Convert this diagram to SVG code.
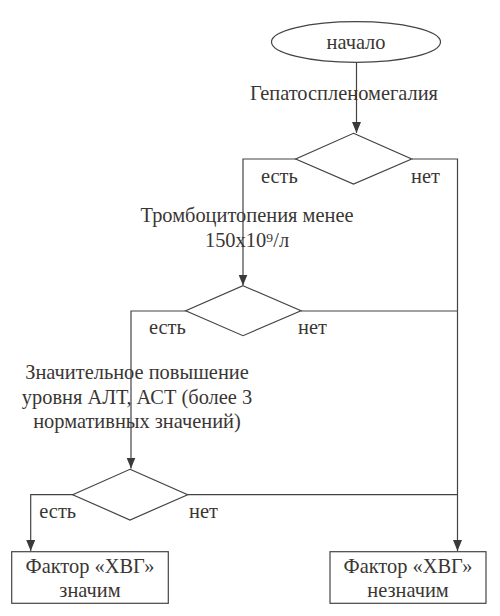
<svg xmlns="http://www.w3.org/2000/svg" width="500" height="616" viewBox="0 0 500 616">
<style>
.s{fill:none;stroke:#444;stroke-width:1.2}
.n{fill:#fff;stroke:#444;stroke-width:1.2}
text{font-family:"Liberation Serif","Times New Roman",serif;font-size:20.4px;fill:#3a3633}
.c{text-anchor:middle}
</style>
<defs>
<marker id="a" markerWidth="12" markerHeight="9" refX="11" refY="4.5" orient="auto" markerUnits="userSpaceOnUse" viewBox="0 0 12 9">
<path d="M0,0 L11,4.5 L0,9 Z" fill="#3a3a3a"/>
</marker>
</defs>
<g id="connectors">
<line class="s" x1="356.5" y1="62" x2="356.5" y2="133" marker-end="url(#a)"/>
<polyline class="s" points="296,159 243,159 243,285.5" marker-end="url(#a)"/>
<polyline class="s" points="412,159 457.5,159 457.5,551" marker-end="url(#a)"/>
<polyline class="s" points="186,311 131,311 131,468.5" marker-end="url(#a)"/>
<line class="s" x1="301" y1="311" x2="457.5" y2="311"/>
<polyline class="s" points="73,494.7 30.7,494.7 30.7,551" marker-end="url(#a)"/>
<line class="s" x1="187.7" y1="494.7" x2="457.5" y2="494.7"/>
</g>
<g id="label-hepato"><text class="c" x="344" y="100">Гепатоспленомегалия</text></g>
<g id="label-thrombo"><text class="c" x="247" y="222">Тромбоцитопения менее</text><text class="c" x="247" y="247">150x10⁹/л</text></g>
<g id="label-alt"><text class="c" x="137" y="379">Значительное повышение</text><text class="c" x="137" y="404">уровня АЛТ, АСТ (более 3</text><text class="c" x="137" y="428">нормативных значений)</text></g>
<g id="start"><ellipse class="n" cx="356" cy="42" rx="84.5" ry="20.3"/><text class="c" x="356" y="49">начало</text></g>
<g id="decision1"><polygon class="n" points="353.5,133.3 411.7,159 353.5,184 295.7,159"/></g>
<g id="decision2"><polygon class="n" points="243,285.7 301,310.7 243,335.7 185.7,310.7"/></g>
<g id="decision3"><polygon class="n" points="130,469.3 187.7,494.7 130,520 72.7,494.7"/></g>
<g id="branch-labels">
<text x="261" y="183">есть</text><text x="411" y="183">нет</text>
<text x="149" y="334">есть</text><text x="298" y="334">нет</text>
<text x="39.3" y="518">есть</text><text x="189" y="518">нет</text>
</g>
<g id="result-yes"><rect class="n" x="11.7" y="551.7" width="156.6" height="51.6"/><text class="c" x="90" y="572.5">Фактор «ХВГ»</text><text class="c" x="90" y="597">значим</text></g>
<g id="result-no"><rect class="n" x="330" y="551.7" width="156" height="51.6"/><text class="c" x="408" y="572.5">Фактор «ХВГ»</text><text class="c" x="408" y="597">незначим</text></g>
</svg>
